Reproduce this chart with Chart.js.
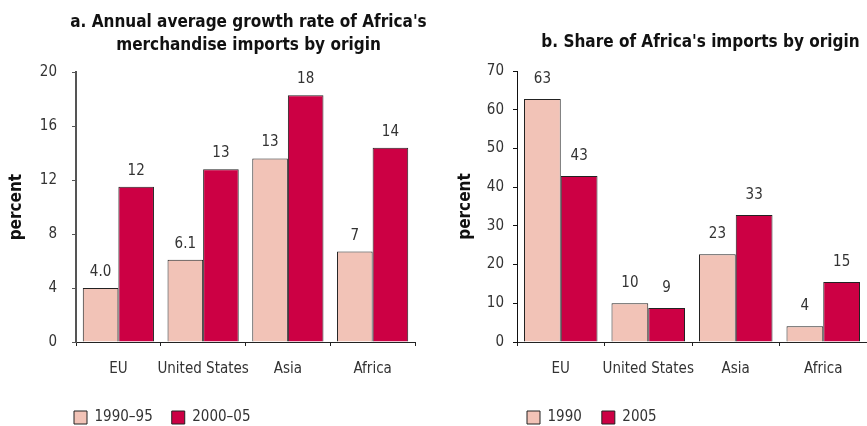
<!DOCTYPE html>
<html>
<head>
<meta charset="utf-8">
<script src="https://cdn.jsdelivr.net/npm/chart.js@4"></script>
<style>
  html, body { margin: 0; padding: 0; background: #fff; overflow: hidden; }
  .panel { position: absolute; top: 0; height: 426px; }
  #growthPanel { left: 0; width: 436px; }
  #sharePanel { left: 436px; width: 431px; }
</style>
</head>
<body>
<div class="panel" id="growthPanel"><canvas id="growthChart"></canvas></div>
<div class="panel" id="sharePanel"><canvas id="shareChart"></canvas></div>
<script>
// Africa's merchandise imports by origin - two grouped bar panels

const ORIGINS = ['EU', 'United States', 'Asia', 'Africa'];

// a. annual average growth rate (percent)
const GROWTH_SERIES = ['1990–95', '2000–05'];
const GROWTH_1990_95 = [4.0, 6.1, 13.6, 6.7];
const GROWTH_2000_05 = [11.5, 12.8, 18.3, 14.4];
const GROWTH_LABELS_1990_95 = ['4.0', '6.1', '13', '7'];
const GROWTH_LABELS_2000_05 = ['12', '13', '18', '14'];
const GROWTH_TICKS = [0, 4, 8, 12, 16, 20];

// b. share of imports (percent)
const SHARE_SERIES = ['1990', '2005'];
const SHARE_1990 = [62.8, 10.0, 22.7, 4.1];
const SHARE_2005 = [42.9, 8.8, 32.8, 15.5];
const SHARE_LABELS_1990 = ['63', '10', '23', '4'];
const SHARE_LABELS_2005 = ['43', '9', '33', '15'];
const SHARE_TICKS = [0, 10, 20, 30, 40, 50, 60, 70];

const PINK = '#f2c3b7';
const RED = '#cc0044';
const FONT = "'DejaVu Sans Condensed', 'DejaVu Sans', sans-serif";

// value labels above each bar
const barLabels = {
    id: 'barLabels',
    afterDatasetsDraw(chart, args, opts) {
        const { ctx } = chart;
        ctx.save();
        ctx.font = '15px ' + FONT;
        ctx.fillStyle = '#333';
        ctx.textAlign = 'center';
        ctx.textBaseline = 'middle';
        chart.data.datasets.forEach((ds, di) => {
            chart.getDatasetMeta(di).data.forEach((bar, i) => {
                ctx.fillText(ds.valueLabels[i], bar.x, bar.y - opts.gap);
            });
        });
        ctx.restore();
    }
};

// the original has the titles and legends off-centre; shift them after layout
const nudge = {
    id: 'nudge',
    afterLayout(chart, args, opts) {
        if (chart.titleBlock) {
            chart.titleBlock.left += opts.titleDx;
            chart.titleBlock.right += opts.titleDx;
        }
        if (chart.legend) {
            chart.legend.left = opts.legendLeft;
            chart.legend.top += opts.legendDy;
        }
    }
};

function buildPanel(canvasId, cfg) {
    const ctx = document.getElementById(canvasId);
    return new Chart(ctx, {
        type: 'bar',
        data: {
            labels: ORIGINS,
            datasets: cfg.series.map((name, k) => ({
                label: name,
                data: cfg.values[k],
                valueLabels: cfg.valueLabels[k],
                backgroundColor: k === 0 ? PINK : RED,
                borderColor: '#222',
                borderWidth: 1,
                categoryPercentage: 0.84,
                barPercentage: 1.0
            }))
        },
        options: {
            responsive: true,
            maintainAspectRatio: false,
            animation: false,
            layout: { padding: { left: 0, right: cfg.padRight, top: 0, bottom: 0 } },
            plugins: {
                title: {
                    display: true,
                    text: cfg.title,
                    color: '#111',
                    font: { family: FONT, size: 17, weight: 'bold', lineHeight: 1.3 },
                    padding: cfg.titlePad
                },
                legend: {
                    display: true,
                    position: 'bottom',
                    align: 'start',
                    labels: {
                        boxWidth: 13,
                        boxHeight: 13,
                        padding: cfg.legendPad,
                        color: '#333',
                        font: { family: FONT, size: 15 }
                    }
                },
                tooltip: { enabled: false },
                barLabels: { gap: cfg.labelGap },
                nudge: { titleDx: cfg.titleDx, legendLeft: cfg.legendLeft - cfg.legendPad, legendDy: 9 }
            },
            scales: {
                x: {
                    grid: { display: true, drawOnChartArea: false, drawTicks: true, tickLength: 4, color: '#222' },
                    border: { display: true, color: '#222', width: 1 },
                    ticks: {
                        color: '#333', padding: 14, maxRotation: 0, minRotation: 0, autoSkip: false,
                        font: { family: FONT, size: 15 }
                    },
                    afterFit: s => { s.height = cfg.xHeight; }
                },
                y: {
                    min: 0,
                    max: cfg.ticks[cfg.ticks.length - 1],
                    afterBuildTicks: s => { s.ticks = cfg.ticks.map(v => ({ value: v })); },
                    grid: { display: true, drawOnChartArea: false, drawTicks: true, tickLength: 4, color: cfg.axisColor },
                    border: { display: true, color: cfg.axisColor, width: cfg.axisWidth },
                    ticks: { color: '#333', padding: cfg.tickPad, font: { family: FONT, size: 15 } },
                    title: {
                        display: true,
                        text: 'percent',
                        color: '#111',
                        font: { family: FONT, size: 17, weight: 'bold' },
                        padding: { top: cfg.yTitlePad, bottom: 0 }
                    },
                    afterFit: s => { s.width = cfg.yWidth; }
                }
            }
        },
        plugins: [barLabels, nudge]
    });
}

buildPanel('growthChart', {
    title: ["a. Annual average growth rate of Africa's", 'merchandise imports by origin'],
    series: GROWTH_SERIES,
    values: [GROWTH_1990_95, GROWTH_2000_05],
    valueLabels: [GROWTH_LABELS_1990_95, GROWTH_LABELS_2000_05],
    ticks: GROWTH_TICKS,
    titlePad: { top: 12, bottom: 16 },
    titleDx: 41,
    legendLeft: 74,
    legendPad: 19,
    padRight: 21,
    yWidth: 76,
    yTitlePad: 6,
    xHeight: 40,
    tickPad: 15,
    labelGap: 16,
    axisColor: '#555',
    axisWidth: 2
});

buildPanel('shareChart', {
    title: ["b. Share of Africa's imports by origin"],
    series: SHARE_SERIES,
    values: [SHARE_1990, SHARE_2005],
    valueLabels: [SHARE_LABELS_1990, SHARE_LABELS_2005],
    ticks: SHARE_TICKS,
    titlePad: { top: 32, bottom: 17 },
    titleDx: 49,
    legendLeft: 527 - 436,
    legendPad: 20,
    padRight: 0,
    yWidth: 81,
    yTitlePad: 19,
    xHeight: 39,
    tickPad: 9,
    labelGap: 20,
    axisColor: '#111',
    axisWidth: 1
});
</script>
</body>
</html>
